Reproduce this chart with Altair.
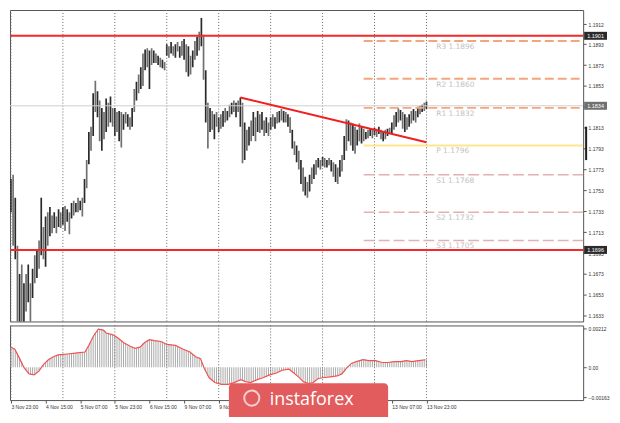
import altair as alt
import pandas as pd

# ---------------- data (bar 0 = 3 Nov 23:00, one bar per hour) ----------------
highs = [
    1.1764, 1.1768, 1.1746, 1.1700, 1.1673, 1.1682, 1.1664, 1.1673, 1.1682, 1.1664,
    1.1678, 1.1691, 1.1696, 1.1705, 1.1746, 1.1718, 1.1728, 1.1732, 1.1737, 1.1729,
    1.1732, 1.1728, 1.1735, 1.1732, 1.1737, 1.1738, 1.1735, 1.1732, 1.1741, 1.1743,
    1.1741, 1.1746, 1.1743, 1.1746, 1.1764, 1.1782, 1.1809, 1.1814, 1.1846, 1.1858,
    1.1848, 1.1839, 1.1832, 1.1828, 1.1841, 1.1837, 1.1843, 1.1832, 1.1832, 1.1828,
    1.1829, 1.1828, 1.1826, 1.1828, 1.1826, 1.1823, 1.1832, 1.1850, 1.1857, 1.1864,
    1.1871, 1.1884, 1.1888, 1.1889, 1.1887, 1.1889, 1.1887, 1.1884, 1.1882, 1.1880,
    1.1878, 1.1876, 1.1893, 1.1891, 1.1895, 1.1891, 1.1893, 1.1895, 1.1891, 1.1896,
    1.1898, 1.1893, 1.1891, 1.1882, 1.1887, 1.1896, 1.1900, 1.1905, 1.1918, 1.1902,
    1.1868, 1.1837, 1.1832, 1.1829, 1.1826, 1.1828, 1.1823, 1.1826, 1.1829, 1.1832,
    1.1829, 1.1835, 1.1837, 1.1839, 1.1837, 1.1839, 1.1842, 1.1837, 1.1818, 1.1811,
    1.1814, 1.1820, 1.1828, 1.1823, 1.1829, 1.1826, 1.1828, 1.1820, 1.1823, 1.1818,
    1.1823, 1.1826, 1.1823, 1.1828, 1.1829, 1.1831, 1.1829, 1.1828, 1.1826, 1.1823,
    1.1811, 1.1800, 1.1796, 1.1791, 1.1782, 1.1775, 1.1766, 1.1761, 1.1768, 1.1775,
    1.1778, 1.1782, 1.1784, 1.1782, 1.1785, 1.1784, 1.1782, 1.1784, 1.1782, 1.1780,
    1.1778, 1.1775, 1.1782, 1.1787, 1.1805, 1.1821, 1.1820, 1.1818, 1.1817, 1.1814,
    1.1811, 1.1817, 1.1814, 1.1812, 1.1809, 1.1811, 1.1812, 1.1811, 1.1813, 1.1812,
    1.1814, 1.1811, 1.1809, 1.1811, 1.1812, 1.1813, 1.1818, 1.1825, 1.1828, 1.1832,
    1.1830, 1.1828, 1.1826, 1.1823, 1.1826, 1.1829, 1.1831, 1.1829, 1.1833, 1.1834,
    1.1835, 1.1837, 1.1838,
]
lows = [
    1.1732, 1.1700, 1.1687, 1.1610, 1.1603, 1.1615, 1.1620, 1.1637, 1.1646, 1.1622,
    1.1650, 1.1664, 1.1669, 1.1678, 1.1691, 1.1687, 1.1680, 1.1700, 1.1709, 1.1712,
    1.1717, 1.1712, 1.1718, 1.1717, 1.1720, 1.1714, 1.1723, 1.1711, 1.1726, 1.1729,
    1.1732, 1.1732, 1.1734, 1.1728, 1.1741, 1.1755, 1.1778, 1.1791, 1.1805, 1.1828,
    1.1823, 1.1800, 1.1791, 1.1802, 1.1809, 1.1814, 1.1818, 1.1814, 1.1805, 1.1809,
    1.1800, 1.1794, 1.1811, 1.1817, 1.1814, 1.1811, 1.1814, 1.1828, 1.1839, 1.1846,
    1.1850, 1.1853, 1.1868, 1.1871, 1.1850, 1.1873, 1.1875, 1.1875, 1.1873, 1.1871,
    1.1870, 1.1868, 1.1882, 1.1880, 1.1884, 1.1882, 1.1880, 1.1886, 1.1880, 1.1882,
    1.1878, 1.1866, 1.1862, 1.1864, 1.1871, 1.1878, 1.1882, 1.1887, 1.1891, 1.1859,
    1.1818, 1.1793, 1.1809, 1.1811, 1.1802, 1.1814, 1.1809, 1.1812, 1.1814, 1.1818,
    1.1820, 1.1823, 1.1826, 1.1828, 1.1823, 1.1828, 1.1814, 1.1779, 1.1782, 1.1791,
    1.1796, 1.1800, 1.1805, 1.1800, 1.1809, 1.1808, 1.1811, 1.1805, 1.1808, 1.1805,
    1.1811, 1.1814, 1.1812, 1.1817, 1.1818, 1.1820, 1.1818, 1.1818, 1.1814, 1.1808,
    1.1793, 1.1787, 1.1780, 1.1773, 1.1759, 1.1752, 1.1748, 1.1746, 1.1752, 1.1759,
    1.1764, 1.1768, 1.1775, 1.1773, 1.1776, 1.1775, 1.1775, 1.1777, 1.1771, 1.1766,
    1.1761, 1.1759, 1.1766, 1.1771, 1.1782, 1.1791, 1.1800, 1.1796, 1.1791, 1.1788,
    1.1796, 1.1800, 1.1798, 1.1800, 1.1802, 1.1803, 1.1805, 1.1803, 1.1806, 1.1804,
    1.1807, 1.1802, 1.1800, 1.1802, 1.1805, 1.1807, 1.1807, 1.1811, 1.1814, 1.1818,
    1.1820, 1.1812, 1.1809, 1.1811, 1.1814, 1.1817, 1.1820, 1.1818, 1.1823, 1.1826,
    1.1828, 1.1829, 1.1831,
]
macd_hist = [
    0.00109, 0.00103, 0.00093, 0.00078, 0.00052, 0.00031, 0.00005, -0.00016, -0.00031, -0.00036,
    -0.00041, -0.00041, -0.00031, -0.00021, -0.00005, 0.00010, 0.00026, 0.00036, 0.00047, 0.00052,
    0.00057, 0.00062, 0.00067, 0.00070, 0.00072, 0.00072, 0.00072, 0.00072, 0.00075, 0.00078,
    0.00078, 0.00078, 0.00080, 0.00083, 0.00083, 0.00098, 0.00119, 0.00140, 0.00165, 0.00186,
    0.00202, 0.00207, 0.00207, 0.00202, 0.00186, 0.00181, 0.00181, 0.00176, 0.00171, 0.00165,
    0.00155, 0.00145, 0.00134, 0.00129, 0.00119, 0.00114, 0.00109, 0.00103, 0.00103, 0.00109,
    0.00114, 0.00129, 0.00134, 0.00145, 0.00150, 0.00150, 0.00145, 0.00145, 0.00145, 0.00140,
    0.00140, 0.00134, 0.00124, 0.00124, 0.00124, 0.00119, 0.00119, 0.00114, 0.00103, 0.00103,
    0.00098, 0.00093, 0.00088, 0.00083, 0.00072, 0.00062, 0.00052, 0.00052, 0.00041, 0.00010,
    -0.00021, -0.00047, -0.00062, -0.00072, -0.00083, -0.00088, -0.00088, -0.00093, -0.00093, -0.00093,
    -0.00093, -0.00093, -0.00088, -0.00083, -0.00078, -0.00072, -0.00067, -0.00072, -0.00078, -0.00078,
    -0.00083, -0.00083, -0.00078, -0.00072, -0.00067, -0.00062, -0.00057, -0.00057, -0.00052, -0.00047,
    -0.00041, -0.00036, -0.00036, -0.00031, -0.00026, -0.00021, -0.00016, -0.00010, -0.00010, -0.00016,
    -0.00021, -0.00031, -0.00041, -0.00052, -0.00062, -0.00072, -0.00083, -0.00088, -0.00088, -0.00083,
    -0.00078, -0.00067, -0.00062, -0.00057, -0.00057, -0.00057, -0.00052, -0.00052, -0.00052, -0.00047,
    -0.00047, -0.00047, -0.00041, -0.00036, -0.00021, -0.00005, 0.00005, 0.00016, 0.00026, 0.00031,
    0.00031, 0.00036, 0.00041, 0.00041, 0.00041, 0.00036, 0.00036, 0.00036, 0.00036, 0.00036,
    0.00031, 0.00026, 0.00026, 0.00026, 0.00026, 0.00026, 0.00031, 0.00031, 0.00031, 0.00031,
    0.00031, 0.00036, 0.00036, 0.00036, 0.00036, 0.00031, 0.00031, 0.00036, 0.00036, 0.00036,
    0.00041, 0.00041, 0.00041,
]
signal_idx = [0, 1.8, 4, 6.2, 8.4, 10.7, 12.9, 15.1, 17.3, 19.6, 21.8, 26.2, 30.7, 34.2, 36,
              38.2, 40.4, 42.7, 44, 47.1, 49.3, 52, 55.1, 57.3, 59.6, 61.8, 64, 66.2, 69.3, 72,
              76, 79.6, 82.7, 85.3, 87.6, 89.3, 91.6, 94.2, 97.3, 100.4, 103.1, 106.2, 108.4,
              110.7, 113.8, 116.4, 119.6, 122.7, 125.3, 128.4, 130.7, 132.9, 135.1, 137.3,
              139.6, 141.8, 144, 147.6, 150.7, 152.9, 155.1, 157.3, 159.6, 162.7, 165.3, 168.4,
              171.6, 174.2, 177.3, 180.4, 182.7, 185.3, 188.4, 191.6]
signal_val = [0.00109, 0.00098, 0.00047, -0.00005, -0.00036, -0.00041, -0.00021, 0.00016, 0.00041,
              0.00057, 0.00067, 0.00072, 0.00078, 0.00083, 0.00119, 0.00171, 0.00207, 0.00202,
              0.00186, 0.00176, 0.00160, 0.00134, 0.00114, 0.00103, 0.00109, 0.00134, 0.00150,
              0.00145, 0.00140, 0.00124, 0.00119, 0.00098, 0.00083, 0.00057, 0.00047, -0.00005,
              -0.00057, -0.00083, -0.00093, -0.00093, -0.00083, -0.00067, -0.00078, -0.00083,
              -0.00067, -0.00057, -0.00041, -0.00031, -0.00016, -0.00010, -0.00031, -0.00052,
              -0.00078, -0.00088, -0.00083, -0.00062, -0.00057, -0.00052, -0.00047, -0.00036,
              -0.00005, 0.00021, 0.00031, 0.00041, 0.00036, 0.00036, 0.00026, 0.00026, 0.00031,
              0.00031, 0.00036, 0.00031, 0.00036, 0.00041]

grid_idx = [0, 24, 48, 72, 96, 120, 144, 168, 192]
time_tick_idx = [0, 16, 32, 48, 64, 80, 96, 112, 128, 144, 160, 176, 192]
time_tick_labels = ["3 Nov 23:00", "4 Nov 15:00", "5 Nov 07:00", "5 Nov 23:00", "6 Nov 15:00",
                    "9 Nov 07:00", "9 Nov 23:00", "10 Nov 15:00", "11 Nov 07:00", "11 Nov 23:00",
                    "12 Nov 15:00", "13 Nov 07:00", "13 Nov 23:00"]
price_ticks = [1.1633, 1.1653, 1.1673, 1.1693, 1.1713, 1.1733, 1.1753, 1.1773, 1.1793,
               1.1813, 1.1833, 1.1853, 1.1873, 1.1893, 1.1912]
macd_ticks = [0.00212, 0.0, -0.00163]

red_levels = [1.1901, 1.1696]
last_price = 1.1834
pivot_names = ["R3", "R2", "R1", "P", "S1", "S2", "S3"]
pivot_vals = [1.1896, 1.1860, 1.1832, 1.1796, 1.1768, 1.1732, 1.1705]
pivot_groups = ["R", "R", "R", "P", "S", "S", "S"]
pivot_start = 163
pivot_label_idx = 196.5
trend_idx = [106, 192]
trend_val = [1.1842, 1.1799]
tag_vals = [1.1901, 1.1834, 1.1696]
tag_kind = ["red", "black", "red"]

# ---------------- layout ----------------
W = 576
H_MAIN = 313
H_MACD = 75
X_DOMAIN = [-0.44, 264.4]
P_DOMAIN = [1.16275, 1.19257]
M_DOMAIN = [-0.00178, 0.00227]
FONT = "Liberation Sans"

xs = alt.Scale(domain=X_DOMAIN, nice=False, zero=False)
ps = alt.Scale(domain=P_DOMAIN, nice=False, zero=False)
ms = alt.Scale(domain=M_DOMAIN, nice=False, zero=False)

# shared axis definitions (identical in every layer so that they merge cleanly)
PA = alt.Axis(orient="right", values=price_ticks, format=".4f", title=None, grid=False,
              tickSize=3, labelPadding=2, labelFontSize=5)
MA = alt.Axis(orient="right", values=macd_ticks, title=None, grid=False, tickSize=3,
              labelPadding=2, labelFontSize=5,
              labelExpr="datum.value == 0 ? '0.00' : format(datum.value, '.5f')")
label_js = "[" + ",".join(f"'{t}'" for t in time_tick_labels) + "]"
TA = alt.Axis(values=time_tick_idx, labelExpr=label_js + "[round(datum.value/16)]",
              labelAlign="left", labelFlush=False, labelOverlap=False, tickSize=3,
              labelFontSize=5, labelPadding=1, grid=False, title=None, orient="bottom")

XM = lambda f: alt.X(f, scale=xs, axis=None)
YP = lambda f: alt.Y(f, scale=ps, axis=PA)
XT = lambda f: alt.X(f, scale=xs, axis=TA)
YM = lambda f: alt.Y(f, scale=ms, axis=MA)

bars = pd.DataFrame({"i": list(range(len(highs))), "high": highs, "low": lows})
bars["shade"] = ["a" if k % 2 == 0 else "b" for k in bars["i"]]
grid_df = pd.DataFrame({"i": grid_idx})
piv = pd.DataFrame({"name": pivot_names, "v": pivot_vals, "g": pivot_groups})
piv["x0"] = pivot_start
piv["x1"] = X_DOMAIN[1]
piv["xl"] = pivot_label_idx
piv["label"] = [f"{n}  {v:.4f}" for n, v in zip(pivot_names, pivot_vals)]
trend = pd.DataFrame({"i": trend_idx, "v": trend_val})
tags = pd.DataFrame({"v": tag_vals, "kind": tag_kind, "label": [f"{v:.4f}" for v in tag_vals]})
hist = pd.DataFrame({"i": list(range(len(macd_hist))), "m": macd_hist})
sig = pd.DataFrame({"i": signal_idx, "s": signal_val})

# ---------------- main price panel ----------------
price_bars = alt.Chart(bars).mark_rule(strokeWidth=1.7, clip=True).encode(
    x=XM("i:Q"), y=YP("low:Q"), y2="high:Q",
    color=alt.Color("shade:N", scale=alt.Scale(domain=["a", "b"], range=["#2a2a2a", "#707070"]),
                    legend=None),
)
grid_main = alt.Chart(grid_df).mark_rule(color="#6a6a6a", strokeDash=[1, 2], strokeWidth=1).encode(
    x=XM("i:Q"))
cur_line = alt.Chart(pd.DataFrame({"v": [last_price]})).mark_rule(color="#cfcfcf", strokeWidth=1).encode(
    y=YP("v:Q"))
piv_r = alt.Chart(piv).transform_filter("datum.g == 'R'").mark_rule(
    color="#f5a57e", strokeWidth=2, strokeDash=[9, 4]).encode(x=XM("x0:Q"), x2="x1:Q", y=YP("v:Q"))
piv_s = alt.Chart(piv).transform_filter("datum.g == 'S'").mark_rule(
    color="#e4b1b1", strokeWidth=1.5, strokeDash=[11, 4]).encode(x=XM("x0:Q"), x2="x1:Q", y=YP("v:Q"))
piv_p = alt.Chart(piv).transform_filter("datum.g == 'P'").mark_rule(
    color="#fde592", strokeWidth=2).encode(x=XM("x0:Q"), x2="x1:Q", y=YP("v:Q"))
piv_txt = alt.Chart(piv).mark_text(align="left", baseline="middle", dy=6, fontSize=7.5,
                                   font="DejaVu Sans", color="#c2c2c2").encode(
    x=XM("xl:Q"), y=YP("v:Q"), text="label:N")
red_lines = alt.Chart(pd.DataFrame({"v": red_levels})).mark_rule(color="#f22a2a", strokeWidth=2).encode(
    y=YP("v:Q"))
trend_line = alt.Chart(trend).mark_line(color="#f21f1f", strokeWidth=2).encode(x=XM("i:Q"), y=YP("v:Q"))
tag_box = alt.Chart(tags).mark_rule(strokeWidth=8, strokeCap="butt").encode(
    x=alt.value(W + 1), x2=alt.value(W + 24), y=YP("v:Q"),
    color=alt.Color("kind:N", scale=alt.Scale(domain=["red", "black"], range=["#f01e1e", "#111111"]),
                    legend=None))
tag_txt = alt.Chart(tags).mark_text(color="white", fontSize=5.5, font=FONT, align="center",
                                    baseline="middle").encode(
    x=alt.value(W + 12.5), y=YP("v:Q"), text="label:N")
axis_mark = alt.Chart(pd.DataFrame({"top": [1.1814], "bot": [1.1782]})).mark_rule(
    color="#1e1e1e", strokeWidth=2).encode(x=alt.value(W + 3), y=YP("top:Q"), y2="bot:Q")

main = alt.layer(price_bars, grid_main, cur_line, piv_r, piv_s, piv_p, piv_txt, red_lines,
                 trend_line, tag_box, tag_txt, axis_mark).properties(width=W, height=H_MAIN)

# ---------------- MACD panel ----------------
hist_bars = alt.Chart(hist).mark_rule(color="#a9a9a9", strokeWidth=1).encode(
    x=XT("i:Q"), y=YM("m:Q"), y2=alt.datum(0))
grid_macd = alt.Chart(grid_df).mark_rule(color="#6a6a6a", strokeDash=[1, 2], strokeWidth=1).encode(
    x=XT("i:Q"))
sig_line = alt.Chart(sig).mark_line(color="#ef5353", strokeWidth=1.2).encode(x=XT("i:Q"), y=YM("s:Q"))

logo_df = pd.DataFrame({"t": ["instaforex"]})
logo_box = alt.Chart(logo_df).mark_rect(color="#e25c5d", cornerRadiusTopLeft=4,
                                        cornerRadiusTopRight=4).encode(
    x=alt.value(220), x2=alt.value(380), y=alt.value(58), y2=alt.value(92))
logo_icon = alt.Chart(logo_df).mark_point(shape="circle", filled=False, color="white",
                                          strokeWidth=2, size=230).encode(
    x=alt.value(243), y=alt.value(73))
logo_txt = alt.Chart(logo_df).mark_text(color="white", fontSize=18, font="Open Sans",
                                        align="left", baseline="alphabetic").encode(
    x=alt.value(261), y=alt.value(80), text="t:N")

macd = alt.layer(hist_bars, grid_macd, sig_line, logo_box, logo_icon, logo_txt).properties(
    width=W, height=H_MACD)

chart = alt.vconcat(main, macd, spacing=2).resolve_scale(
    x="independent", y="independent", color="independent"
).properties(padding=0, background="white").configure_view(
    stroke="#555555", strokeWidth=1
).configure_axis(
    labelFont=FONT, labelColor="#333333", tickColor="#555555", domain=False
)

chart.save("out.html", embed_options={"renderer": "svg", "actions": False})
